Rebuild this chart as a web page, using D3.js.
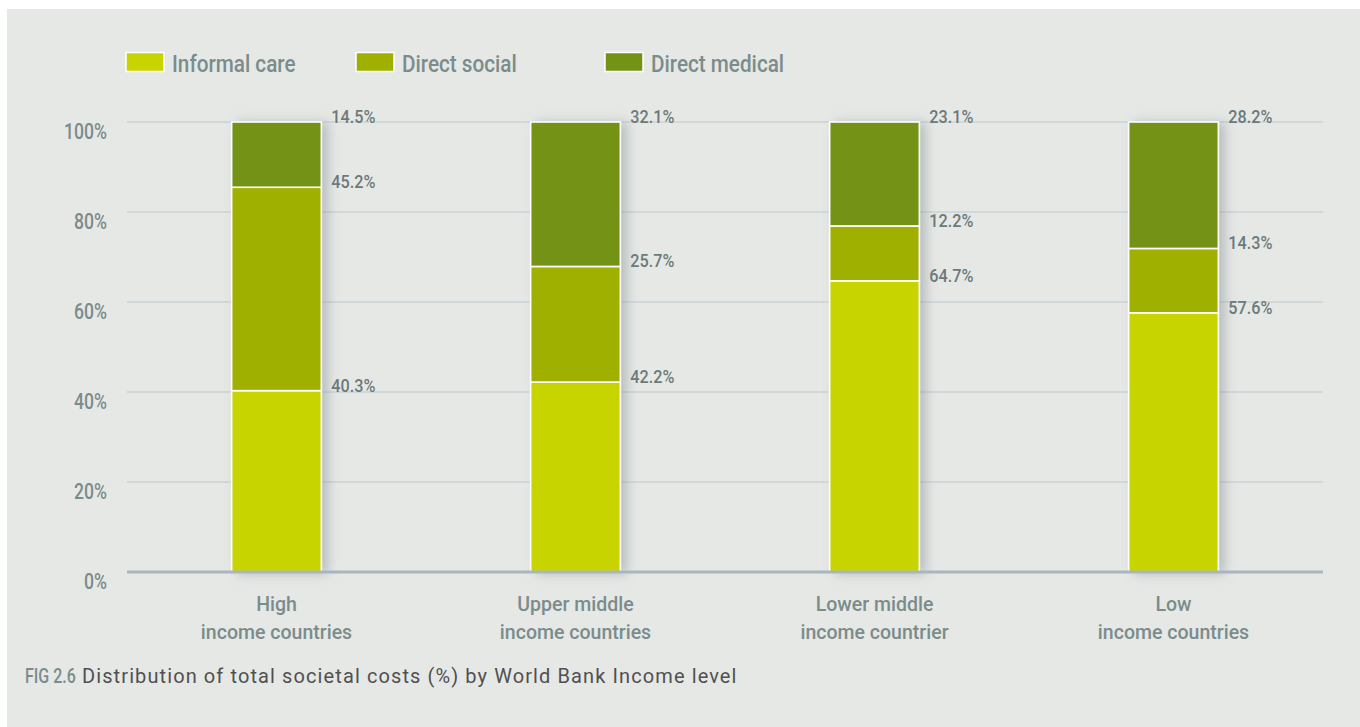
<!DOCTYPE html>
<html>
<head>
<meta charset="utf-8">
<script src="https://cdn.jsdelivr.net/npm/d3@7"></script>
<style>
  body { margin: 0; background: #fff; }
  svg { display: block; }
  text { font-family: Roboto, "Liberation Sans", sans-serif; }
</style>
</head>
<body>
<div id="chart"></div>
<script>
// categories (two-line labels)
const categories = ["High", "Upper middle", "Lower middle", "Low"];
const categoryLine2 = ["income countries", "income countries", "income countrier", "income countries"];

// series values, % of total societal costs
const seriesNames = ["Informal care", "Direct social", "Direct medical"];
const informalCare = [40.3, 42.2, 64.7, 57.6];
const directSocial = [45.2, 25.7, 12.2, 14.3];
const directMedical = [14.5, 32.1, 23.1, 28.2];

const yTicks = [0, 20, 40, 60, 80, 100];
const colors = ["#c8d400", "#a0b000", "#739216"];

const W = 1360, H = 727;
const textGray = "#7b8c8c";

const svg = d3.select("#chart").append("svg")
    .attr("width", W)
    .attr("height", H);

// text squeezed a bit horizontally, to look like a condensed face
function condText(g, px, py, sx) {
    return g.append("text")
        .attr("transform", "translate(" + px + "," + py + ") scale(" + sx + ",1)");
}

// soft shadow to the right of the bars
const defs = svg.append("defs");
const filt = defs.append("filter").attr("id", "shadow")
    .attr("x", "-20%").attr("y", "-10%").attr("width", "160%").attr("height", "130%");
filt.append("feDropShadow")
    .attr("dx", 6).attr("dy", 1).attr("stdDeviation", 6)
    .attr("flood-color", "#7a8a90").attr("flood-opacity", 0.45);

// grey panel
svg.append("rect")
    .attr("x", 7).attr("y", 9)
    .attr("width", W - 7).attr("height", H - 9)
    .attr("fill", "#e6e8e6");

const x = d3.scaleBand()
    .domain(categories)
    .range([127, 1323])
    .paddingInner(0.7)
    .paddingOuter(0.35);

const y = d3.scaleLinear()
    .domain([0, 100])
    .range([572, 122]);

// gridlines
svg.append("g")
    .selectAll("line")
    .data(yTicks.filter(d => d > 0))
    .enter()
    .append("line")
    .attr("x1", 127).attr("x2", 1323)
    .attr("y1", d => y(d)).attr("y2", d => y(d))
    .style("stroke", "#bcc7cd")
    .style("stroke-width", 1.2);

// y tick labels
const yl = svg.append("g");
yTicks.forEach(d => {
    condText(yl, 107, y(d) + 17, 0.8)
        .attr("text-anchor", "end")
        .style("font-size", "22px")
        .style("font-weight", "500")
        .style("fill", textGray)
        .text(d + "%");
});

// stack the data
const table = categories.map((c, i) => ({
    cat: c,
    "Informal care": informalCare[i],
    "Direct social": directSocial[i],
    "Direct medical": directMedical[i]
}));
const stacked = d3.stack().keys(seriesNames)(table);

// bars
const barsG = svg.append("g");
categories.forEach((c, i) => {
    const g = barsG.append("g").attr("filter", "url(#shadow)");
    stacked.forEach((layer, k) => {
        const d = layer[i];
        const top = Math.min(d[1], 100);
        g.append("rect")
            .attr("x", x(c))
            .attr("y", y(top))
            .attr("width", x.bandwidth())
            .attr("height", y(d[0]) - y(top))
            .style("fill", colors[k])
            .style("stroke", "#fff")
            .style("stroke-width", 1.6);
    });
});

// baseline
svg.append("line")
    .attr("x1", 127).attr("x2", 1323)
    .attr("y1", y(0)).attr("y2", y(0))
    .style("stroke", "#aab6bd")
    .style("stroke-width", 3);

// value labels at the top of each segment
const labelsG = svg.append("g");
stacked.forEach((layer, k) => {
    layer.forEach((d, i) => {
        condText(labelsG, x(categories[i]) + x.bandwidth() + 10, y(Math.min(d[1], 100)) + 1, 0.9)
            .style("font-weight", "500")
            .style("font-size", "18px")
            .style("fill", "#6c7a7a")
            .text((d[1] - d[0]).toFixed(1) + "%");
    });
});

// x labels
const xl = svg.append("g");
categories.forEach((c, i) => {
    const cx = x(c) + x.bandwidth() / 2;
    condText(xl, cx, 611, 0.93)
        .attr("text-anchor", "middle")
        .style("font-size", "21px")
        .style("font-weight", "500")
        .style("fill", textGray)
        .text(c);
    condText(xl, cx, 639, 0.93)
        .attr("text-anchor", "middle")
        .style("font-size", "21px")
        .style("font-weight", "500")
        .style("fill", textGray)
        .text(categoryLine2[i]);
});

// legend
const legendX = [126, 356, 605];
const legend = svg.append("g");
seriesNames.forEach((s, k) => {
    legend.append("rect")
        .attr("x", legendX[k]).attr("y", 52.5)
        .attr("width", 38).attr("height", 19)
        .style("fill", colors[k])
        .style("stroke", "#fff")
        .style("stroke-width", 1.5);
    condText(legend, legendX[k] + 46, 71.5, 0.9)
        .style("font-size", "23px")
        .style("font-weight", "500")
        .style("fill", textGray)
        .text(s);
});

// caption
const cap = svg.append("g");
condText(cap, 25, 683, 0.8)
    .style("font-size", "20px")
    .style("font-weight", "500")
    .style("fill", textGray)
    .text("FIG 2.6");
condText(cap, 82, 683, 1)
    .style("font-size", "20px")
    .style("letter-spacing", "1.1px")
    .style("fill", "#505050")
    .text("Distribution of total societal costs (%) by World Bank Income level");
</script>
</body>
</html>
